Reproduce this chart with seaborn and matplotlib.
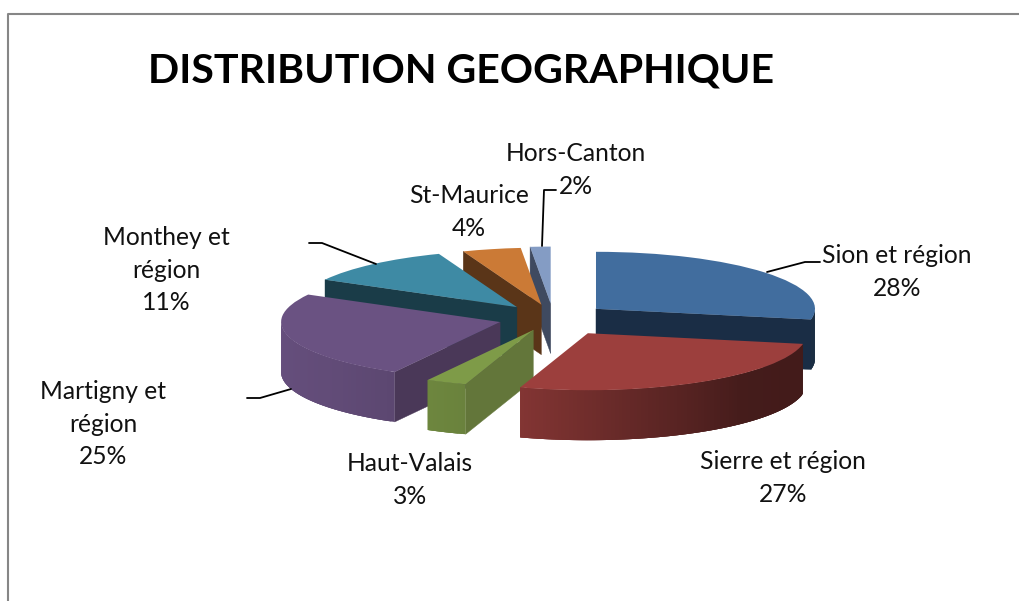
"""Exploded pseudo-3D pie: distribution geographique."""

import numpy as np
import matplotlib
matplotlib.use("Agg")
import matplotlib.pyplot as plt
import seaborn as sns

W, H = 1019, 601

TITLE = "DISTRIBUTION GEOGRAPHIQUE"
names = ["Sion et région", "Sierre et région", "Haut-Valais", "Martigny et\nrégion",
         "Monthey et\nrégion", "St-Maurice", "Hors-Canton"]
shares = [28.0, 27.0, 3.0, 25.0, 11.2, 4.3, 1.5]

top_colors = ["#416D9E", "#9C3F3D", "#7E9B48", "#6A5282", "#3E8AA4", "#CB7A36", "#849CC4"]
wall_colors = ["#1A2D45", "#45201C", "#63763A", "#4A3858", "#1A3C48", "#5A3518", "#3F4A60"]

# back to front
draw_order = [6, 5, 4, 0, 3, 2, 1]

label_xy = [(897, 272), (783, 478), (410, 480), (103, 424), (166, 270), (469, 212), (576, 170)]
leaders = [
    [(767, 272), (805, 262), (820, 262)],
    [(291, 389), (260, 398), (247, 398)],
    [(376, 264), (322, 243), (309, 243)],
    [(542, 246), (544, 190), (556, 190)],
]

# pie geometry in pixels
CX, CY, RX, RY = 553.3, 318.0, 219.0, 57.0
DEPTH = 50.0 / RY
EXPLODE = [0.253, 0.31, 0.23, 0.253, 0.253, 0.24, 0.253]

sns.set_theme(style="white")
plt.rcParams["font.family"] = ["Lato", "DejaVu Sans"]


def outer_shade(theta_deg):
    # light falls from the lower left, the right of the rim goes dark
    return np.interp(theta_deg, [90, 135, 165, 198, 230, 280], [0.42, 0.44, 0.62, 0.84, 0.92, 0.98])


def draw_walls(ax, i, t0, t1, z):
    mid = np.radians((t0 + t1) / 2)
    ox, oy = EXPLODE[i] * np.sin(mid), EXPLODE[i] * np.cos(mid)

    # radial walls that face the viewer
    for edge, visible in ((t0, np.sin(np.radians(t0)) < 0), (t1, np.sin(np.radians(t1)) > 0)):
        if not visible:
            continue
        a = np.radians(edge)
        ex, ey = ox + np.sin(a), oy + np.cos(a)
        ax.fill([ox, ex, ex, ox], [oy, ey, ey - DEPTH, oy - DEPTH],
                color=wall_colors[i], lw=0.3, zorder=z)

    # rim, only the front half shows; each strip runs on under the next so no seams show
    lo, hi = max(t0, 90), min(t1, 270)
    if lo >= hi:
        return
    base = np.array(matplotlib.colors.to_rgb(top_colors[i]))
    steps = np.arange(lo, hi, 1.0).tolist()
    for s0 in steps:
        a = np.radians(np.linspace(s0, min(s0 + 3.0, hi), 5))
        xs = ox + np.sin(a)
        ys = oy + np.cos(a)
        c = base * outer_shade(s0 + 0.5)
        ax.fill(np.r_[xs, xs[::-1]], np.r_[ys, ys[::-1] - DEPTH],
                facecolor=c, edgecolor="none", lw=0, zorder=z + 0.1)


def main():
    fig = plt.figure(figsize=(W / 100, H / 100), dpi=100, facecolor="white")
    ax = fig.add_axes([0, 0, 1, 1])

    palette = sns.color_palette(top_colors)
    wedges, _ = ax.pie(shares, colors=palette, explode=EXPLODE, startangle=90,
                       counterclock=False, radius=1.0, wedgeprops={"linewidth": 0})
    ax.set_aspect("auto")
    ax.set_xlim(-CX / RX, (W - CX) / RX)
    ax.set_ylim((CY - H) / RY, CY / RY)

    edges = np.concatenate([[0], np.cumsum(shares)]) / np.sum(shares) * 360
    for rank, i in enumerate(draw_order):
        z = 2 + rank
        draw_walls(ax, i, edges[i], edges[i + 1], z)
        wedges[i].set_zorder(z + 0.5)

    def to_fig(x, y):
        return x / W, 1 - y / H

    for name, share, (x, y) in zip(names, shares, label_xy):
        fx, fy = to_fig(x, y)
        fig.text(fx, fy, f"{name}\n{share:.0f}%", ha="center", va="center", fontsize=17.7,
                 color="#111111", linespacing=1.5, zorder=20)

    fx, fy = to_fig(148, 71)
    fig.text(fx, fy, TITLE, ha="left", va="center", fontsize=29.6, fontweight="bold", color="black")

    for pts in leaders:
        xs, ys = zip(*[to_fig(*p) for p in pts])
        ax.plot(xs, ys, color="black", lw=1.3, transform=fig.transFigure, zorder=15, clip_on=False)

    # chart frame, cut by the page on the right and at the bottom
    xs, ys = zip(*[to_fig(*p) for p in [(8, H), (8, 14), (W, 14)]])
    ax.plot(xs, ys, color="#868686", lw=1.5, transform=fig.transFigure, zorder=1, clip_on=False)

    fig.savefig("out.png", dpi=100)
    plt.close(fig)


if __name__ == "__main__":
    main()
